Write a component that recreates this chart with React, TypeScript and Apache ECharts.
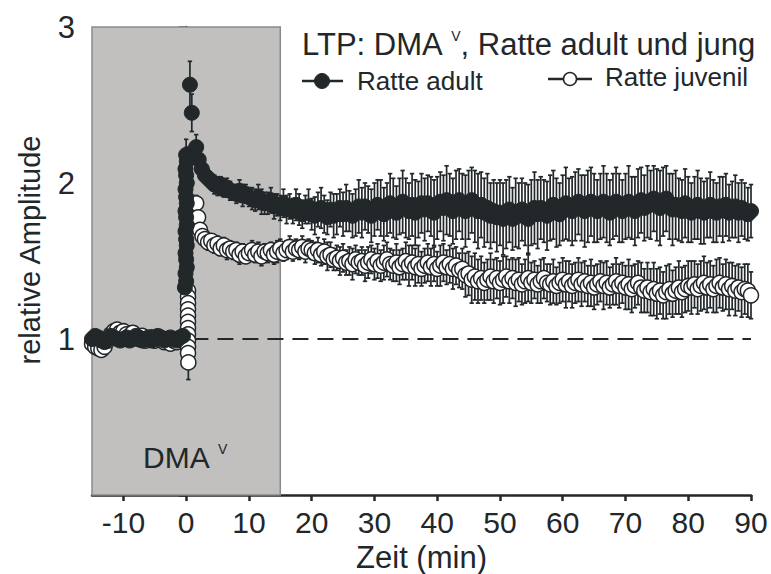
import React, { useEffect, useRef } from "react";
import * as echarts from "echarts";

// time points (min) for baseline and post-spike recordings
const time = [
  -15, -14.5, -14, -13.5, -13, -12.5, -12, -11.5, -11, -10.5,
  -10, -9.5, -9, -8.5, -8, -7.5, -7, -6.5, -6, -5.5,
  -5, -4.5, -4, -3.5, -3, -2.5, -2, -1.5, -1, -0.5,
  3, 3.5, 4, 4.5, 5, 5.5, 6, 6.5, 7, 7.5,
  8, 8.5, 9, 9.5, 10, 10.5, 11, 11.5, 12, 12.5,
  13, 13.5, 14, 14.5, 15, 15.5, 16, 16.5, 17, 17.5,
  18, 18.5, 19, 19.5, 20, 20.5, 21, 21.5, 22, 22.5,
  23, 23.5, 24, 24.5, 25, 25.5, 26, 26.5, 27, 27.5,
  28, 28.5, 29, 29.5, 30, 30.5, 31, 31.5, 32, 32.5,
  33, 33.5, 34, 34.5, 35, 35.5, 36, 36.5, 37, 37.5,
  38, 38.5, 39, 39.5, 40, 40.5, 41, 41.5, 42, 42.5,
  43, 43.5, 44, 44.5, 45, 45.5, 46, 46.5, 47, 47.5,
  48, 48.5, 49, 49.5, 50, 50.5, 51, 51.5, 52, 52.5,
  53, 53.5, 54, 54.5, 55, 55.5, 56, 56.5, 57, 57.5,
  58, 58.5, 59, 59.5, 60, 60.5, 61, 61.5, 62, 62.5,
  63, 63.5, 64, 64.5, 65, 65.5, 66, 66.5, 67, 67.5,
  68, 68.5, 69, 69.5, 70, 70.5, 71, 71.5, 72, 72.5,
  73, 73.5, 74, 74.5, 75, 75.5, 76, 76.5, 77, 77.5,
  78, 78.5, 79, 79.5, 80, 80.5, 81, 81.5, 82, 82.5,
  83, 83.5, 84, 84.5, 85, 85.5, 86, 86.5, 87, 87.5,
  88, 88.5, 89, 89.5, 90,
];

// Ratte adult: mean relative amplitude
const adultMean = [
  1.0, 1.02, 1.01, 0.99, 0.98, 1.0, 1.02, 1.01, 1.0, 0.99,
  1.0, 1.01, 0.99, 1.0, 1.02, 1.01, 0.99, 1.0, 1.01, 0.99,
  1.0, 1.02, 1.01, 0.99, 1.0, 1.01, 1.0, 0.99, 1.01, 1.02,
  2.05, 2.03, 2.01, 1.99, 1.98, 1.99, 1.96, 1.97, 1.95, 1.94,
  1.93, 1.95, 1.92, 1.93, 1.91, 1.9, 1.89, 1.91, 1.88, 1.87,
  1.87, 1.89, 1.85, 1.86, 1.84, 1.87, 1.83, 1.85, 1.82, 1.86,
  1.83, 1.8, 1.83, 1.85, 1.8, 1.79, 1.83, 1.84, 1.8, 1.78,
  1.83, 1.79, 1.8, 1.84, 1.8, 1.84, 1.82, 1.79, 1.81, 1.85,
  1.81, 1.85, 1.83, 1.79, 1.83, 1.86, 1.84, 1.8, 1.83, 1.87,
  1.84, 1.81, 1.85, 1.88, 1.84, 1.82, 1.86, 1.81, 1.83, 1.87,
  1.83, 1.87, 1.85, 1.81, 1.84, 1.88, 1.84, 1.89, 1.86, 1.82,
  1.86, 1.89, 1.85, 1.82, 1.86, 1.89, 1.85, 1.82, 1.86, 1.81,
  1.84, 1.79, 1.82, 1.78, 1.81, 1.77, 1.8, 1.83, 1.77, 1.81,
  1.79, 1.83, 1.8, 1.77, 1.81, 1.84, 1.8, 1.84, 1.82, 1.79,
  1.84, 1.86, 1.81, 1.8, 1.84, 1.87, 1.83, 1.82, 1.85, 1.88,
  1.84, 1.82, 1.85, 1.88, 1.84, 1.82, 1.85, 1.88, 1.84, 1.81,
  1.85, 1.88, 1.84, 1.82, 1.85, 1.88, 1.84, 1.82, 1.87, 1.89,
  1.84, 1.88, 1.86, 1.9, 1.86, 1.84, 1.88, 1.9, 1.85, 1.83,
  1.86, 1.83, 1.82, 1.87, 1.83, 1.81, 1.84, 1.86, 1.82, 1.81,
  1.84, 1.86, 1.82, 1.81, 1.85, 1.83, 1.86, 1.81, 1.83, 1.85,
  1.81, 1.84, 1.82, 1.8, 1.82,
];
// Ratte adult: SEM
const adultSem = [
  0.03, 0.02, 0.03, 0.03, 0.02, 0.03, 0.03, 0.02, 0.03, 0.02,
  0.03, 0.03, 0.02, 0.03, 0.02, 0.03, 0.03, 0.02, 0.03, 0.03,
  0.02, 0.03, 0.03, 0.02, 0.03, 0.02, 0.03, 0.03, 0.02, 0.03,
  0.05, 0.04, 0.05, 0.06, 0.06, 0.05, 0.05, 0.06, 0.06, 0.05,
  0.06, 0.07, 0.07, 0.06, 0.06, 0.07, 0.07, 0.08, 0.08, 0.07,
  0.07, 0.08, 0.08, 0.07, 0.08, 0.09, 0.09, 0.08, 0.08, 0.1,
  0.1, 0.09, 0.09, 0.11, 0.1, 0.12, 0.11, 0.13, 0.12, 0.11,
  0.11, 0.14, 0.13, 0.12, 0.14, 0.15, 0.13, 0.14, 0.15, 0.17,
  0.16, 0.15, 0.15, 0.17, 0.17, 0.16, 0.18, 0.17, 0.17, 0.19,
  0.19, 0.17, 0.18, 0.2, 0.19, 0.18, 0.2, 0.21, 0.18, 0.19,
  0.2, 0.18, 0.19, 0.21, 0.2, 0.19, 0.21, 0.22, 0.2, 0.21,
  0.22, 0.2, 0.21, 0.23, 0.22, 0.21, 0.23, 0.24, 0.21, 0.22,
  0.22, 0.21, 0.2, 0.22, 0.21, 0.23, 0.22, 0.21, 0.2, 0.22,
  0.21, 0.2, 0.2, 0.22, 0.21, 0.23, 0.22, 0.2, 0.2, 0.22,
  0.21, 0.22, 0.22, 0.2, 0.21, 0.23, 0.2, 0.22, 0.22, 0.21,
  0.21, 0.23, 0.23, 0.22, 0.22, 0.2, 0.21, 0.23, 0.22, 0.21,
  0.21, 0.22, 0.22, 0.2, 0.21, 0.23, 0.2, 0.22, 0.22, 0.21,
  0.21, 0.23, 0.22, 0.21, 0.23, 0.24, 0.22, 0.21, 0.21, 0.23,
  0.22, 0.2, 0.2, 0.22, 0.21, 0.19, 0.2, 0.22, 0.21, 0.2,
  0.19, 0.21, 0.2, 0.19, 0.19, 0.21, 0.2, 0.18, 0.18, 0.2,
  0.19, 0.18, 0.18, 0.17, 0.17,
];

// Ratte juvenil: mean relative amplitude
const juvMean = [
  0.97, 0.95, 0.94, 0.93, 0.95, 0.99, 1.03, 1.05, 1.06, 1.04,
  1.05, 1.03, 1.02, 1.04, 1.01, 1.0, 1.02, 0.99, 1.0, 1.01,
  0.99, 1.01, 1.0, 0.98, 1.0, 0.97, 0.99, 0.98, 1.0, 0.99,
  1.64, 1.62, 1.63, 1.6, 1.61, 1.58, 1.6, 1.57, 1.58, 1.56,
  1.57, 1.54, 1.56, 1.53, 1.55, 1.57, 1.54, 1.56, 1.53, 1.56,
  1.55, 1.57, 1.54, 1.56, 1.58, 1.55, 1.57, 1.59, 1.56, 1.58,
  1.57, 1.59, 1.56, 1.58, 1.57, 1.55, 1.57, 1.54, 1.56, 1.53,
  1.54, 1.51, 1.52, 1.5, 1.52, 1.49, 1.5, 1.48, 1.51, 1.49,
  1.5, 1.47, 1.49, 1.51, 1.48, 1.5, 1.47, 1.49, 1.51, 1.48,
  1.47, 1.49, 1.46, 1.48, 1.5, 1.47, 1.49, 1.46, 1.48, 1.45,
  1.47, 1.49, 1.46, 1.48, 1.45, 1.47, 1.49, 1.46, 1.48, 1.45,
  1.47, 1.44, 1.45, 1.41, 1.42, 1.38, 1.4, 1.37, 1.39, 1.36,
  1.38, 1.4, 1.37, 1.39, 1.36, 1.38, 1.4, 1.37, 1.39, 1.36,
  1.38, 1.35, 1.37, 1.39, 1.36, 1.38, 1.35, 1.37, 1.39, 1.36,
  1.35, 1.37, 1.34, 1.36, 1.38, 1.35, 1.37, 1.34, 1.36, 1.38,
  1.35, 1.37, 1.34, 1.36, 1.33, 1.35, 1.37, 1.34, 1.36, 1.33,
  1.35, 1.37, 1.34, 1.36, 1.33, 1.35, 1.32, 1.34, 1.36, 1.33,
  1.31, 1.33, 1.3, 1.32, 1.29, 1.31, 1.28, 1.3, 1.32, 1.29,
  1.31, 1.33, 1.3, 1.32, 1.34, 1.33, 1.35, 1.32, 1.34, 1.36,
  1.33, 1.35, 1.32, 1.34, 1.36, 1.33, 1.35, 1.32, 1.34, 1.31,
  1.33, 1.3, 1.32, 1.31, 1.28,
];
// Ratte juvenil: SEM
const juvSem = [
  0.03, 0.03, 0.04, 0.03, 0.03, 0.03, 0.02, 0.03, 0.03, 0.02,
  0.03, 0.03, 0.02, 0.03, 0.03, 0.02, 0.03, 0.03, 0.02, 0.03,
  0.03, 0.02, 0.03, 0.03, 0.02, 0.03, 0.03, 0.02, 0.03, 0.03,
  0.04, 0.05, 0.04, 0.05, 0.05, 0.04, 0.05, 0.06, 0.05, 0.05,
  0.05, 0.06, 0.05, 0.04, 0.05, 0.06, 0.05, 0.06, 0.06, 0.05,
  0.06, 0.05, 0.06, 0.07, 0.06, 0.05, 0.06, 0.07, 0.06, 0.06,
  0.06, 0.07, 0.07, 0.06, 0.06, 0.07, 0.08, 0.07, 0.08, 0.09,
  0.08, 0.07, 0.08, 0.09, 0.09, 0.08, 0.09, 0.1, 0.09, 0.08,
  0.09, 0.1, 0.1, 0.09, 0.1, 0.11, 0.1, 0.11, 0.11, 0.1,
  0.1, 0.12, 0.11, 0.1, 0.12, 0.13, 0.11, 0.12, 0.12, 0.11,
  0.11, 0.12, 0.12, 0.11, 0.11, 0.13, 0.12, 0.11, 0.12, 0.13,
  0.12, 0.11, 0.13, 0.14, 0.14, 0.15, 0.15, 0.14, 0.14, 0.13,
  0.13, 0.15, 0.14, 0.13, 0.14, 0.15, 0.13, 0.14, 0.13, 0.15,
  0.14, 0.13, 0.14, 0.15, 0.13, 0.12, 0.12, 0.14, 0.13, 0.12,
  0.13, 0.14, 0.12, 0.13, 0.14, 0.15, 0.13, 0.14, 0.13, 0.14,
  0.14, 0.13, 0.13, 0.15, 0.14, 0.13, 0.13, 0.15, 0.14, 0.13,
  0.13, 0.15, 0.14, 0.13, 0.14, 0.16, 0.15, 0.14, 0.14, 0.16,
  0.14, 0.16, 0.15, 0.17, 0.16, 0.15, 0.15, 0.17, 0.16, 0.15,
  0.15, 0.17, 0.16, 0.15, 0.16, 0.17, 0.15, 0.16, 0.16, 0.17,
  0.16, 0.15, 0.15, 0.17, 0.16, 0.15, 0.16, 0.17, 0.15, 0.16,
  0.15, 0.16, 0.16, 0.17, 0.15,
];

// potentiation spike right after DMA wash-in (dense samples)
const adultSpikeTime = [
  -0.2, 0, -0.1, 0.1, 0, -0.1, 0.1, 0, -0.1, 0.1,
  0, -0.1, 0.1, 0, -0.1, 0.1, 0, -0.1, 0.1, 0,
  0.6, 0.9, 1.6, 2, 2.5,
];
const adultSpikeMean = [
  1.33, 1.37, 1.42, 1.46, 1.51, 1.55, 1.6, 1.64, 1.69, 1.73,
  1.78, 1.82, 1.87, 1.91, 1.96, 2.0, 2.05, 2.09, 2.14, 2.18,
  2.63, 2.45, 2.23, 2.15, 2.09,
];
const adultSpikeSem = [
  0.08, 0.08, 0.09, 0.08, 0.09, 0.08, 0.09, 0.1, 0.09, 0.1,
  0.09, 0.1, 0.09, 0.1, 0.1, 0.09, 0.1, 0.1, 0.09, 0.1,
  0.15, 0.12, 0.08, 0.07, 0.06,
];
const juvSpikeTime = [0.3, 0.3, 0.3, 0.3, 0.3, 0.3, 0.3, 0.3, 0.3, 0.3, 0.3, 0.35, 1.6, 1.9, 2.2, 2.6];
const juvSpikeMean = [1.31, 1.27, 1.23, 1.19, 1.15, 1.11, 1.07, 1.03, 0.99, 0.95, 0.91, 0.85, 1.87, 1.78, 1.7, 1.66];
const juvSpikeSem = [0.06, 0.06, 0.07, 0.06, 0.07, 0.07, 0.08, 0.07, 0.08, 0.08, 0.09, 0.11, 0.05, 0.05, 0.04, 0.04];

const xTicks = [-10, 0, 10, 20, 30, 40, 50, 60, 70, 80, 90];
const yLabels = [1, 2, 3];
const drugWindow = [-15, 15]; // DMA application (shaded)
const baselineRef = [1, 90, 1]; // dashed line: from x, to x, at y

const INK = "#22272a";
const FONT = "'Liberation Sans', Arial, sans-serif";

export default function App() {
  const ref = useRef<HTMLDivElement>(null);

  useEffect(() => {
    const chart = echarts.init(ref.current!, null, { renderer: "svg" });

    const toData = (t: number[], mean: number[], sem: number[]) => t.map((x, i) => [x, mean[i], sem[i]]);

    const adultMain = toData(time, adultMean, adultSem);
    const adultSpike = toData(adultSpikeTime, adultSpikeMean, adultSpikeSem);
    const juvMain = toData(time, juvMean, juvSem);
    const juvSpike = toData(juvSpikeTime, juvSpikeMean, juvSpikeSem);
    // keep chronological drawing order (baseline, spike, post)
    const adult = [...adultMain.slice(0, 30), ...adultSpike, ...adultMain.slice(30)];
    const juv = [...juvMain.slice(0, 30), ...juvSpike, ...juvMain.slice(30)];

    const errItem = (_p: any, api: any) => {
      const x = api.value(0);
      const m = api.value(1);
      const e = api.value(2);
      const top = api.coord([x, m + e]);
      const bot = api.coord([x, m - e]);
      const style = { stroke: INK, lineWidth: 1.7 };
      const c = 2.2;
      return {
        type: "group",
        children: [
          { type: "line", shape: { x1: top[0], y1: top[1], x2: bot[0], y2: bot[1] }, style },
          { type: "line", shape: { x1: top[0] - c, y1: top[1], x2: top[0] + c, y2: top[1] }, style },
          { type: "line", shape: { x1: bot[0] - c, y1: bot[1], x2: bot[0] + c, y2: bot[1] }, style },
        ],
      };
    };

    const option: any = {
      animation: false,
      backgroundColor: "#ffffff",
      textStyle: { fontFamily: FONT, color: INK },
      grid: { left: 92, right: 20, top: 27, bottom: 79, outerBoundsMode: "none" },
      xAxis: {
        type: "value",
        min: -15,
        max: 90,
        name: "Zeit (min)",
        nameLocation: "middle",
        nameGap: 46,
        nameTextStyle: { fontSize: 31, color: INK, fontFamily: FONT },
        splitLine: { show: false },
        axisLine: { lineStyle: { color: INK, width: 2.5 } },
        axisTick: { customValues: xTicks, length: 6, lineStyle: { color: INK, width: 2.5 } },
        axisLabel: { customValues: xTicks, fontSize: 30, color: INK, margin: 12, fontFamily: FONT },
      },
      yAxis: {
        type: "value",
        min: 0,
        max: 3,
        interval: 0.5,
        splitLine: { show: false },
        axisLine: { lineStyle: { color: INK, width: 2.5 } },
        axisTick: { length: 7, lineStyle: { color: INK, width: 2.5 } },
        axisLabel: { customValues: yLabels, fontSize: 31, color: INK, margin: 17, fontFamily: FONT },
      },
      series: [
        {
          type: "scatter",
          data: [],
          z: 0,
          silent: true,
          markArea: {
            silent: true,
            itemStyle: { color: "#c1c0be", borderColor: "#8a8a8a", borderWidth: 1.5 },
            data: [[{ xAxis: drugWindow[0], yAxis: 0 }, { xAxis: drugWindow[1], yAxis: 3 }]],
          },
        },
        {
          type: "line",
          z: 1,
          symbol: "none",
          silent: true,
          data: [
            [baselineRef[0], baselineRef[2]],
            [baselineRef[1], baselineRef[2]],
          ],
          lineStyle: { color: INK, width: 2, type: [16, 9] },
        },
        {
          type: "custom",
          z: 2,
          renderItem: errItem,
          data: adult,
          encode: { x: 0, y: 1 },
          silent: true,
        },
        {
          type: "custom",
          z: 3,
          renderItem: errItem,
          data: juv,
          encode: { x: 0, y: 1 },
          silent: true,
        },
        {
          name: "Ratte juvenil",
          type: "scatter",
          z: 4,
          data: juv.map((d) => [d[0], d[1]]),
          symbol: "circle",
          symbolSize: 15,
          itemStyle: { color: "#ffffff", borderColor: INK, borderWidth: 1.5, opacity: 1 },
        },
        {
          name: "Ratte adult",
          type: "scatter",
          z: 5,
          data: adult.map((d) => [d[0], d[1]]),
          symbol: "circle",
          symbolSize: 15,
          itemStyle: { color: INK, borderColor: INK, borderWidth: 1, opacity: 1 },
        },
      ],
      graphic: [
        {
          type: "text",
          x: 30,
          y: 250,
          z: 100,
          rotation: Math.PI / 2,
          style: {
            text: "relative Amplitude",
            fontSize: 29,
            fontFamily: FONT,
            fill: INK,
            align: "center",
            verticalAlign: "middle",
          },
        },
        {
          type: "text",
          x: 302,
          y: 44,
          z: 100,
          style: {
            text: "LTP: DMA {sup|V}, Ratte adult und jung",
            fontSize: 31,
            fontFamily: FONT,
            fill: INK,
            align: "left",
            verticalAlign: "middle",
            rich: { sup: { fontSize: 14, fontFamily: FONT, fill: INK, verticalAlign: "top" } },
          },
        },
        {
          type: "text",
          x: 143,
          y: 457,
          z: 100,
          style: {
            text: "DMA {sup|V}",
            fontSize: 30,
            fontFamily: FONT,
            fill: INK,
            align: "left",
            verticalAlign: "middle",
            rich: { sup: { fontSize: 14, fontFamily: FONT, fill: INK, verticalAlign: "top" } },
          },
        },
        // legend: Ratte adult
        { type: "line", z: 100, shape: { x1: 302, y1: 81, x2: 343, y2: 81 }, style: { stroke: INK, lineWidth: 2.5 } },
        { type: "circle", z: 101, shape: { cx: 322, cy: 81, r: 7.5 }, style: { fill: INK, stroke: INK, lineWidth: 1 } },
        {
          type: "text",
          x: 357,
          y: 81,
          z: 100,
          style: { text: "Ratte adult", fontSize: 26, fontFamily: FONT, fill: INK, verticalAlign: "middle" },
        },
        // legend: Ratte juvenil
        { type: "line", z: 100, shape: { x1: 548, y1: 79, x2: 592, y2: 79 }, style: { stroke: INK, lineWidth: 2.5 } },
        { type: "circle", z: 101, shape: { cx: 570, cy: 79, r: 6.5 }, style: { fill: "#ffffff", stroke: INK, lineWidth: 1.5 } },
        {
          type: "text",
          x: 605,
          y: 77,
          z: 100,
          style: { text: "Ratte juvenil", fontSize: 26, fontFamily: FONT, fill: INK, verticalAlign: "middle" },
        },
      ],
    };

    chart.setOption(option);
    return () => chart.dispose();
  }, []);

  return (
    <div
      ref={ref}
      style={{ position: "fixed", left: 0, top: 0, width: 771, height: 574, background: "#ffffff" }}
    />
  );
}
